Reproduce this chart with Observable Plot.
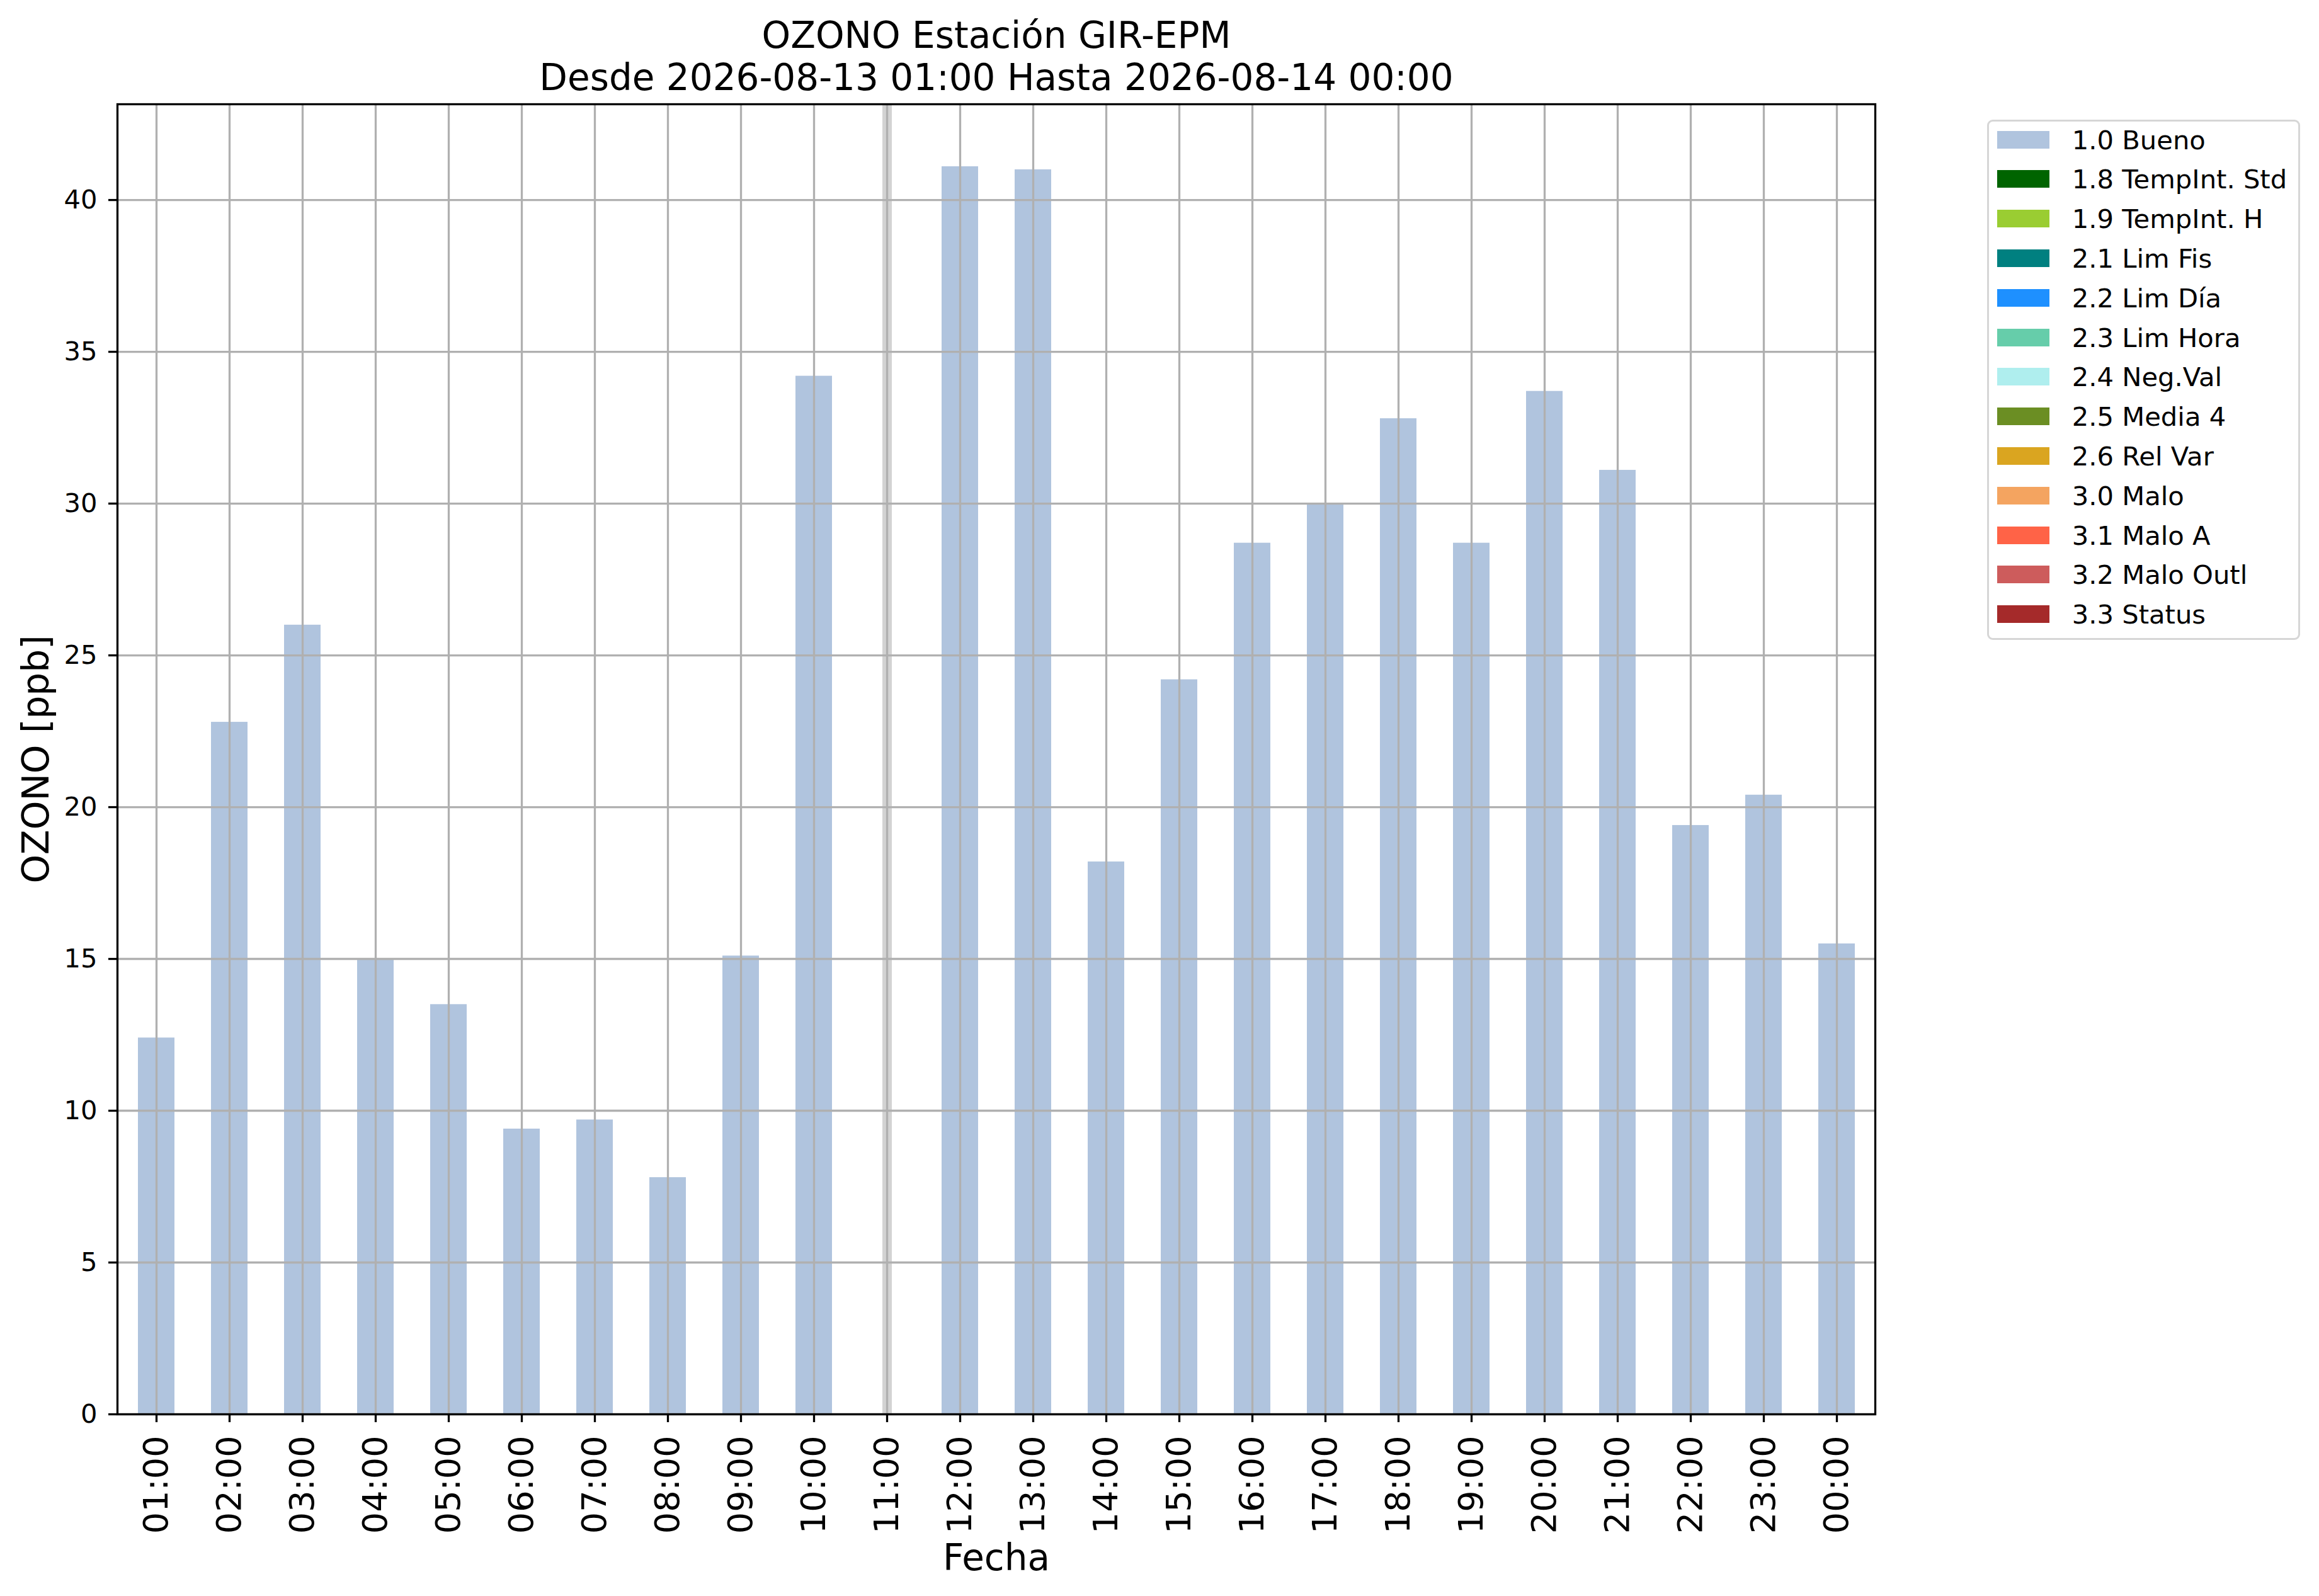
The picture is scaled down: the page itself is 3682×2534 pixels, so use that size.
<!DOCTYPE html>
<html>
<head>
<meta charset="utf-8">
<script src="https://cdn.jsdelivr.net/npm/d3@7"></script>
<script src="https://cdn.jsdelivr.net/npm/@observablehq/plot@0.6"></script>
<style>
  html, body { margin: 0; padding: 0; background: #ffffff; }
  #wrap { position: relative; width: 3682px; height: 2534px; font-family: "DejaVu Sans", sans-serif; color: #000; }
  #chart svg { display: block; }
  #legend { position: absolute; left: 3155px; top: 190px; width: 497px; height: 826px; box-sizing: border-box;
            border: 3.3px solid #d6d6d6; border-radius: 9px; background: rgba(255,255,255,0.8); }
  .sw { position: absolute; left: 12.7px; width: 83px; height: 28px; }
  .lab { position: absolute; left: 131.7px; font-size: 41.7px; line-height: 1; white-space: nowrap; }
</style>
</head>
<body>
<div id="wrap">
  <div id="chart"></div>
  <div id="legend"></div>
</div>
<script>
// ---- data ----
const hours = ["01:00","02:00","03:00","04:00","05:00","06:00","07:00","08:00","09:00","10:00","11:00","12:00",
               "13:00","14:00","15:00","16:00","17:00","18:00","19:00","20:00","21:00","22:00","23:00","00:00"];
const ozone = [12.4, 22.8, 26.0, 15.0, 13.5, 9.4, 9.7, 7.8, 15.1, 34.2, null, 41.1,
               41.0, 18.2, 24.2, 28.7, 30.0, 32.8, 28.7, 33.7, 31.1, 19.4, 20.4, 15.5];
const missingHours = ["11:00"];
const yTicks = [0, 5, 10, 15, 20, 25, 30, 35, 40];
const legendLabels = ["1.0 Bueno","1.8 TempInt. Std","1.9 TempInt. H","2.1 Lim Fis","2.2 Lim Día","2.3 Lim Hora",
                      "2.4 Neg.Val","2.5 Media 4","2.6 Rel Var","3.0 Malo","3.1 Malo A","3.2 Malo Outl","3.3 Status"];
const legendColors = ["#b0c4de","#006400","#9acd32","#008080","#1e90ff","#66cdaa",
                      "#afeeee","#6b8e23","#daa520","#f4a460","#ff6347","#cd5c5c","#a52a2a"];
const titleLines = ["OZONO Estación GIR-EPM", "Desde 2026-08-13 01:00 Hasta 2026-08-14 00:00"];
const yLabel = "OZONO [ppb]";
const xLabel = "Fecha";

const data = hours.map((h, i) => ({hour: h, value: ozone[i]})).filter(d => d.value != null);

const chart = Plot.plot({
  width: 3682,
  height: 2534,
  marginLeft: 186,
  marginRight: 705,
  marginTop: 165,
  marginBottom: 289,
  style: {fontFamily: '"DejaVu Sans", sans-serif', color: "black", background: "white", overflow: "visible"},
  x: {type: "band", domain: hours, paddingInner: 0.5, paddingOuter: 0.25, label: null},
  y: {domain: [0, 43.155], label: null},
  marks: [
    Plot.ruleX(missingHours, {x: d => d, stroke: "#d3d3d3", strokeWidth: 15}),
    Plot.barY(data, {x: "hour", y: "value", fill: "#b0c4de"}),
    Plot.gridX(hours, {stroke: "#b0b0b0", strokeOpacity: 1, strokeWidth: 3.3}),
    Plot.gridY(yTicks, {stroke: "#b0b0b0", strokeOpacity: 1, strokeWidth: 3.3}),
    Plot.frame({stroke: "black", strokeWidth: 3.3}),
    Plot.axisY(yTicks, {tickSize: 14, tickPadding: 18, fontSize: 41.7, strokeWidth: 3.3, label: null}),
    Plot.axisX(hours, {fill: "none", tickSize: 13, strokeWidth: 3.3, label: null}),
    Plot.text(hours, {x: d => d, text: d => d, frameAnchor: "bottom", rotate: -90, textAnchor: "end",
                      lineAnchor: "middle", dy: 34, fontSize: 54}),
    Plot.text([yLabel], {text: d => d, frameAnchor: "left", rotate: -90, dx: -128, fontSize: 58,
                         textAnchor: "middle", lineAnchor: "middle"}),
    Plot.text([xLabel], {text: d => d, frameAnchor: "bottom", dy: 247, lineAnchor: "bottom", fontSize: 58}),
    Plot.text([titleLines[0]], {text: d => d, frameAnchor: "top", dy: 75 - 165, lineAnchor: "bottom", fontSize: 58}),
    Plot.text([titleLines[1]], {text: d => d, frameAnchor: "top", dy: 142 - 165, lineAnchor: "bottom", fontSize: 58})
  ]
});
document.getElementById("chart").appendChild(chart);

// ---- legend (HTML, outside plot frame) ----
const legend = document.getElementById("legend");
const innerTop = 190 + 3.3;
legendLabels.forEach((lab, i) => {
  const cy = 221.8 + i * 62.8 - innerTop;
  const sw = document.createElement("div");
  sw.className = "sw";
  sw.style.top = (cy - 14) + "px";
  sw.style.background = legendColors[i];
  legend.appendChild(sw);
  const t = document.createElement("div");
  t.className = "lab";
  t.style.top = (cy - 20) + "px";
  t.textContent = lab;
  legend.appendChild(t);
});
</script>
</body>
</html>
